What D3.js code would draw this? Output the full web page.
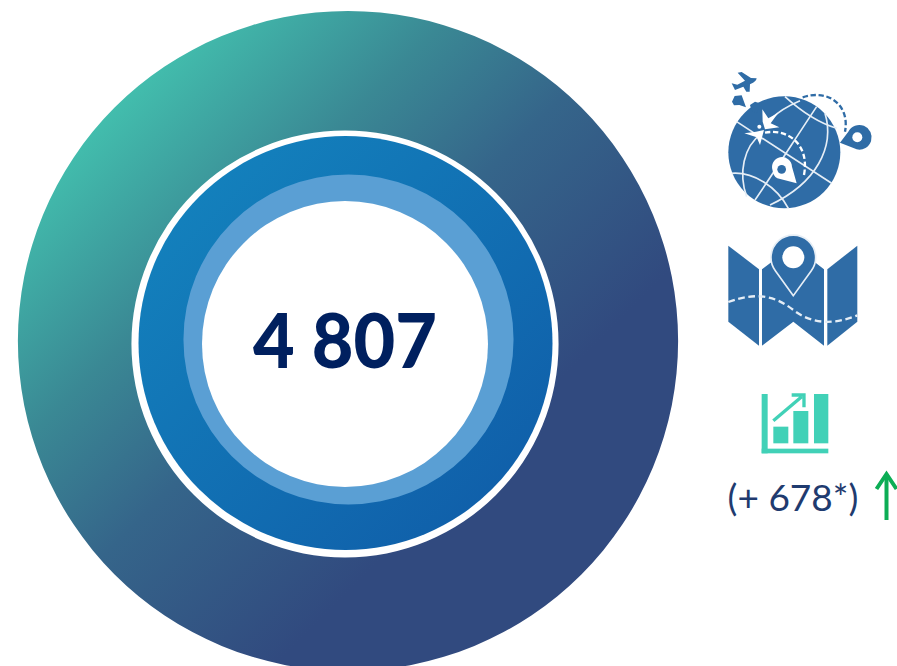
<!DOCTYPE html>
<html><head><meta charset="utf-8">
<script src="https://cdn.jsdelivr.net/npm/d3@7/dist/d3.min.js"></script>
<style>html,body{margin:0;padding:0;background:#fff;overflow:hidden}svg{display:block}</style>
</head><body><svg id="c" width="897" height="666"></svg>
<script>
const totalValue = [4807];
const totalLabel = "4 807";
const changeLabel = "(+ 678*)";
const ringNames = ["outer","gap","band","lightBand","hole"];
const ringColors = ["url(#outerGrad)","#ffffff","url(#bandGrad)","#5A9FD4","#ffffff"];
const ringRadii = [330,213.5,207,165,143];
const ringCenters = [[348,341],[345,344],[345.5,343],[348.5,339.5],[345,344]];

const svg = d3.select("#c");
const defs = svg.append("defs");
function grad(id,x1,y1,x2,y2,stops){
  const g=defs.append("linearGradient").attr("id",id).attr("gradientUnits","userSpaceOnUse")
    .attr("x1",x1).attr("y1",y1).attr("x2",x2).attr("y2",y2);
  stops.forEach(s=>g.append("stop").attr("offset",s[0]).attr("stop-color",s[1]));
}
// gradient vectors are relative to each ring's own centre
grad("outerGrad",100-348,100-341,470-348,470-341,[[0,"#43C2AF"],[0.36,"#3A8894"],[0.62,"#35658A"],[1,"#314A7F"]]);
grad("bandGrad",-150,-150,150,150,[[0,"#1380BC"],[1,"#1060AA"]]);

const arc = d3.arc();
const pie = d3.pie().sort(null);
ringNames.forEach((n,i)=>{
  svg.append("g").attr("transform",`translate(${ringCenters[i]})`).attr("class",n)
    .selectAll("path").data(pie(totalValue)).join("path")
    .attr("d",d=>arc({...d,innerRadius:0,outerRadius:ringRadii[i]}))
    .attr("fill",ringColors[i]);
});
svg.append("text").attr("x",345).attr("y",368).attr("text-anchor","middle")
  .attr("font-family","Lato").attr("font-weight",900).attr("font-size",76).attr("fill","#00205F")
  .attr("textLength",184).attr("lengthAdjust","spacingAndGlyphs")
  .text(totalLabel);
svg.append("text").attr("x",793).attr("y",511).attr("text-anchor","middle")
  .attr("font-family","Lato").attr("font-weight",400).attr("font-size",37).attr("fill","#1F3B6F")
  .text(changeLabel);

// green arrow
const ar=svg.append("g").attr("fill","none").attr("stroke","#0CAD55").attr("stroke-width",4);
ar.append("path").attr("d","M886.5 520V475");
ar.append("path").attr("d","M876.5 489L886.5 474L896.5 489");

const blue="#2F6CA6";
// Globe
const g1=svg.append("g").attr("transform","translate(700,50) scale(0.3333)");
g1.append("circle").attr("cx",253).attr("cy",307).attr("r",168).attr("fill",blue);
g1.append("path").attr("fill",blue).attr("d","M95 100L112 104L135 92L113 68L125 66L153 84L170 85C168 95 158 100 150 103L149 125L139 125L130 110L105 120Z");
g1.append("path").attr("fill",blue).attr("d","M96 155L104 138L125 136L138 172L118 165L102 166Z");
g1.append("path").attr("fill",blue).attr("d","M150 165L165 155L180 160L170 190L155 182Z");
const wl=g1.append("g").attr("fill","none").attr("stroke","#E6EEF6").attr("stroke-width",5);
["M110 215L395 400",
 "M255 140C310 190 360 220 410 235",
 "M350 170C290 260 220 370 165 450",
 "M375 190C405 290 350 400 210 465",
 "M185 250C130 290 115 370 140 440",
 "M95 370C160 365 230 410 265 475",
 "M300 152C270 165 240 180 215 205"
].forEach(d=>wl.append("path").attr("d",d));
g1.append("path").attr("fill","#fff").attr("d","M187 178L205 205L235 188L212 220L238 232L195 238L188 215Z");
g1.append("path").attr("fill","#fff").attr("d","M133 250L168 245L192 240L180 285L170 262Z");
g1.append("circle").attr("cx",178).attr("cy",230).attr("r",6).attr("fill","#fff");
g1.append("path").attr("fill","none").attr("stroke","#fff").attr("stroke-width",7).attr("stroke-dasharray","16 8")
  .attr("d","M195 248C260 235 330 280 312 375");
g1.append("path").attr("fill","#fff").attr("d","M218 362A30 30 0 1 1 276 350L290 400L232 385A30 30 0 0 1 218 362Z");
g1.append("circle").attr("cx",245).attr("cy",358).attr("r",13).attr("fill",blue);
g1.append("path").attr("fill","none").attr("stroke",blue).attr("stroke-width",7).attr("stroke-dasharray","16 8")
  .attr("d","M308 142C390 115 450 170 435 245");
g1.append("path").attr("fill",blue).attr("d","M420 278L445 245A37 37 0 1 1 470 298Z");
g1.append("circle").attr("cx",472).attr("cy",262).attr("r",15).attr("fill","#fff");

// Map
const g2=svg.append("g").attr("transform","translate(700,225) scale(0.3333)");
["M85 62L177 133V362L85 290Z","M186 133L280 62L372 133V362L280 290L186 362Z","M382 133L472 62V290L382 362Z"]
  .forEach(d=>g2.append("path").attr("d",d).attr("fill",blue));
g2.append("path").attr("fill",blue).attr("stroke","#E6EEF6").attr("stroke-width",5)
  .attr("d","M280 212L226 137A67 67 0 1 1 334 137Z");
g2.append("circle").attr("cx",280).attr("cy",97).attr("r",33).attr("fill","#fff");
g2.append("path").attr("fill","none").attr("stroke","#E6EEF6").attr("stroke-width",7).attr("stroke-dasharray","20 11")
  .attr("d","M85 231C170 200 225 212 280 255S400 300 472 271");

// Bars icon
const teal="#41D1B7";
const g3=svg.append("g").attr("transform","translate(700,380) scale(0.3333)").attr("fill",teal);
[[185,42,18,178],[185,206,200,14],[220,140,45,50],[280,93,45,97],[342,42,43,148]]
 .forEach(r=>g3.append("rect").attr("x",r[0]).attr("y",r[1]).attr("width",r[2]).attr("height",r[3]));
g3.append("path").attr("fill","none").attr("stroke",teal).attr("stroke-width",10).attr("d","M220 122L305 50M275 45H312V82");
</script></body></html>
